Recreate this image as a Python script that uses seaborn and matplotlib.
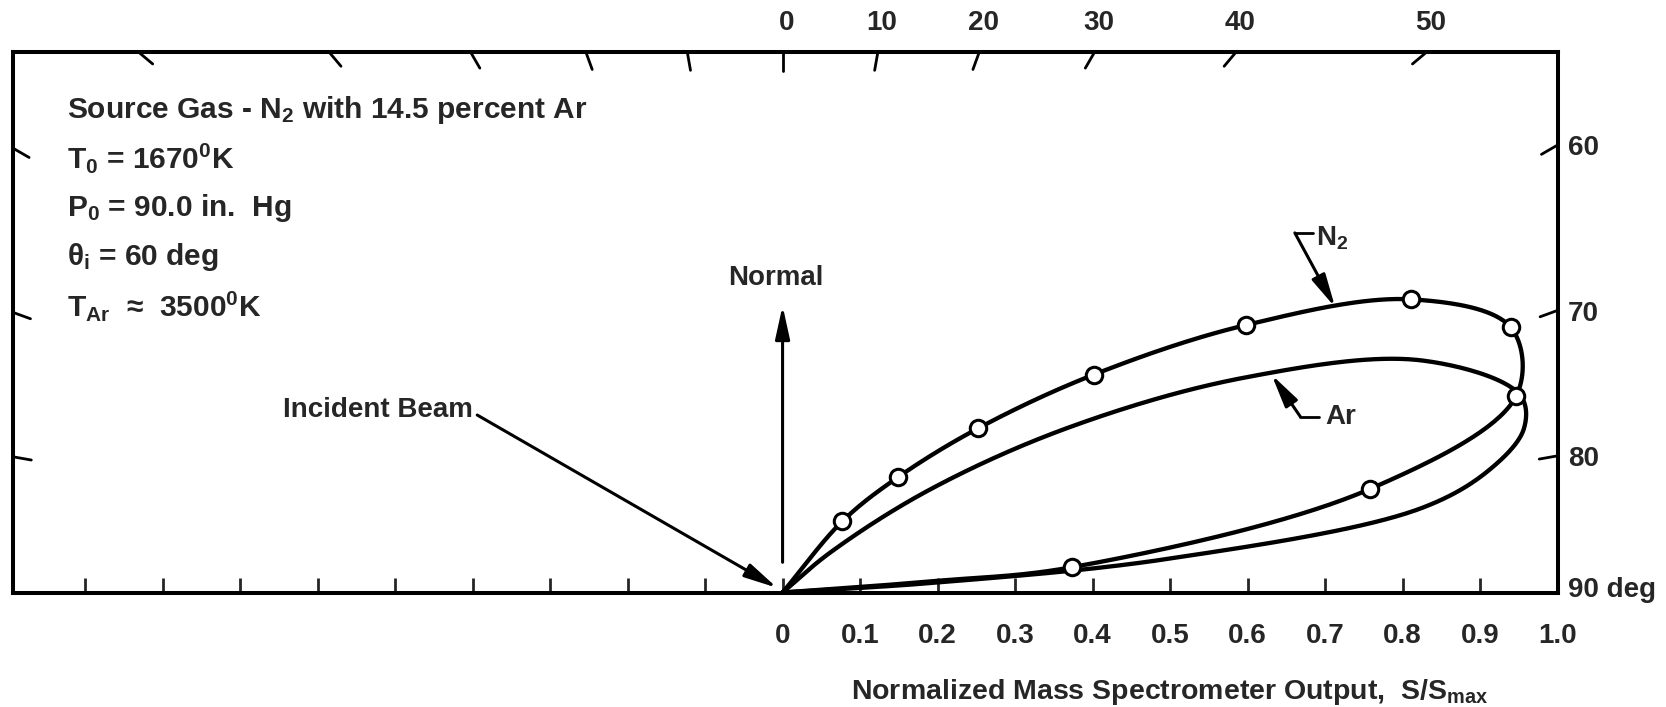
import numpy as np
import pandas as pd
import matplotlib
matplotlib.use("Agg")
import matplotlib.pyplot as plt
import seaborn as sns

# ---------------- data ----------------
# N2 scattering distribution (open-circle data points), polar angle from normal (deg)
n2_angle_deg = [40, 45, 50, 55, 60, 65, 70, 75, 80, 85]
n2_signal = [0.12, 0.21, 0.33, 0.49, 0.69, 0.895, 1.0, 0.98, 0.77, 0.375]
# faired N2 curve continuation toward origin (no symbol)
n2_tail_angle_deg = [85.7]
n2_tail_signal = [0.20]
# Ar faired curve (no symbols)
ar_angle_deg = [50, 55, 60, 65, 70, 75, 77.5, 80, 82.5, 85, 86.3]
ar_signal = [0.08, 0.23, 0.425, 0.655, 0.876, 0.985, 0.98, 0.93, 0.83, 0.50, 0.20]

# angle scale
top_angles = [-50, -40, -30, -20, -10, 0, 10, 20, 30, 40, 50]
top_angle_labels = ["", "", "", "", "", "0", "10", "20", "30", "40", "50"]
side_angles = [-80, -70, -60, 60, 70, 80]
side_angle_labels = ["", "", "", "60", "70", "80"]
corner_label = "90 deg"

# radial (S/Smax) scale
x_ticks = [-0.9, -0.8, -0.7, -0.6, -0.5, -0.4, -0.3, -0.2, -0.1,
           0.0, 0.1, 0.2, 0.3, 0.4, 0.5, 0.6, 0.7, 0.8, 0.9, 1.0]
x_tick_labels = [""] * 9 + ["0", "0.1", "0.2", "0.3", "0.4", "0.5", "0.6", "0.7", "0.8", "0.9", "1.0"]
x_label = r"Normalized Mass Spectrometer Output,  S/S$_{\mathrm{max}}$"

info_lines = [
    r"Source Gas - N$_2$ with 14.5 percent Ar",
    r"T$_0$ = 1670$^0$K",
    r"P$_0$ = 90.0 in.  Hg",
    r"θ$_\mathrm{i}$ = 60 deg",
    r"T$_{\mathrm{Ar}}$  ≈  3500$^0$K",
]

# ---------------- style ----------------
sns.set_style("white")
FONT = ["Liberation Sans", "DejaVu Sans"]
plt.rcParams["font.family"] = FONT
plt.rcParams["font.weight"] = "bold"
plt.rcParams["mathtext.fontset"] = "custom"
plt.rcParams["mathtext.rm"] = "Liberation Sans:bold"
plt.rcParams["mathtext.it"] = "Liberation Sans:bold"
plt.rcParams["mathtext.bf"] = "Liberation Sans:bold"
plt.rcParams["mathtext.default"] = "rm"
FS = 20
FS_INFO = 21.5


def polar_xy(ang_deg, r):
    a = np.radians(np.asarray(ang_deg, dtype=float))
    r = np.asarray(r, dtype=float)
    return r * np.sin(a), r * np.cos(a)


def catmull_rom(pts, n=40, alpha=0.5):
    pts = np.asarray(pts, dtype=float)
    P = np.vstack([2 * pts[0] - pts[1], pts, 2 * pts[-1] - pts[-2]])
    out = []
    for i in range(len(P) - 3):
        p0, p1, p2, p3 = P[i:i + 4]
        t0 = 0.0
        t1 = t0 + max(np.linalg.norm(p1 - p0), 1e-9) ** alpha
        t2 = t1 + max(np.linalg.norm(p2 - p1), 1e-9) ** alpha
        t3 = t2 + max(np.linalg.norm(p3 - p2), 1e-9) ** alpha
        t = np.linspace(t1, t2, n)[:, None]
        A1 = (t1 - t) / (t1 - t0) * p0 + (t - t0) / (t1 - t0) * p1
        A2 = (t2 - t) / (t2 - t1) * p1 + (t - t1) / (t2 - t1) * p2
        A3 = (t3 - t) / (t3 - t2) * p2 + (t - t2) / (t3 - t2) * p3
        B1 = (t2 - t) / (t2 - t0) * A1 + (t - t0) / (t2 - t0) * A2
        B2 = (t3 - t) / (t3 - t1) * A2 + (t - t1) / (t3 - t1) * A3
        C = (t2 - t) / (t2 - t1) * B1 + (t - t1) / (t2 - t1) * B2
        out.append(C if i == 0 else C[1:])
    return np.vstack(out)


# ---------------- build curves ----------------
nx, ny = polar_xy(n2_angle_deg, n2_signal)
tx, ty = polar_xy(n2_tail_angle_deg, n2_tail_signal)
n2_pts = np.vstack([[0, 0], np.column_stack([nx, ny]), np.column_stack([tx, ty]), [0, 0]])
n2_curve = catmull_rom(n2_pts)

ax_, ay_ = polar_xy(ar_angle_deg, ar_signal)
ar_pts = np.vstack([[0, 0], np.column_stack([ax_, ay_]), [0, 0]])
ar_curve = catmull_rom(ar_pts)

curves = pd.concat([
    pd.DataFrame({"x": n2_curve[:, 0], "y": n2_curve[:, 1], "gas": "N2", "k": np.arange(len(n2_curve))}),
    pd.DataFrame({"x": ar_curve[:, 0], "y": ar_curve[:, 1], "gas": "Ar", "k": np.arange(len(ar_curve))}),
])
markers = pd.DataFrame({"x": nx, "y": ny})

# ---------------- figure ----------------
W, H = 1666, 707
fig = plt.figure(figsize=(W / 100, H / 100), dpi=100)
X0, X1 = -0.993, 1.0
Y1 = 0.6974
scale = 775.0  # px per unit
left_px, bottom_px = 13, 592.5
ax = fig.add_axes([left_px / W, (H - bottom_px) / H, (X1 - X0) * scale / W, Y1 * scale / H])

sns.lineplot(data=curves, x="x", y="y", units="gas", estimator=None, sort=False,
             color="black", lw=3.1, ax=ax, legend=False)
sns.scatterplot(data=markers, x="x", y="y", s=140, marker="o", facecolor="white",
                edgecolor="black", linewidth=2.2, zorder=5, ax=ax, legend=False)

ax.set_xlim(X0, X1)
ax.set_ylim(0, Y1)
for sp in ax.spines.values():
    sp.set_visible(True)
    sp.set_linewidth(2.9)
    sp.set_color("black")

ax.set_xticks(x_ticks)
ax.set_xticklabels(x_tick_labels, fontsize=FS, fontweight="bold")
ax.set_yticks([])
ax.tick_params(axis="x", direction="in", length=11, width=2.0, pad=22, bottom=True, top=False)
ax.set_xlabel("")
ax.set_ylabel("")
ax.text(0.5, -0.137, x_label, ha="center", va="baseline", fontsize=FS + 0.5, fontweight="bold",
        clip_on=False)

# angle ticks on frame (radial, pointing inward)
TL = 0.024
for a, lab in zip(top_angles, top_angle_labels):
    ex, ey = Y1 * np.tan(np.radians(a)), Y1
    ux, uy = np.sin(np.radians(a)), np.cos(np.radians(a))
    ax.plot([ex, ex - TL * ux], [ey, ey - TL * uy], color="black", lw=2.0, clip_on=False)
    if lab:
        ax.text(ex + 0.005, Y1 + 0.038, lab, ha="center", va="center", fontsize=FS, clip_on=False)

for a, lab in zip(side_angles, side_angle_labels):
    edge = X1 if a > 0 else X0
    ey = abs(edge) / np.tan(np.radians(abs(a)))
    ux, uy = np.sin(np.radians(a)), np.cos(np.radians(a))
    ax.plot([edge, edge - TL * ux], [ey, ey - TL * uy], color="black", lw=2.0, clip_on=False)
    if lab:
        ax.text(X1 + 0.013, ey - 0.004, lab, ha="left", va="center", fontsize=FS, clip_on=False)
ax.text(X1 + 0.013, 0.003, corner_label, ha="left", va="center", fontsize=FS, clip_on=False)

# info block
y0, dy = 0.628, 0.0635
for i, line in enumerate(info_lines):
    ax.text(-0.923, y0 - i * dy, line, ha="left", va="center_baseline", fontsize=FS_INFO)

# Normal arrow
AP = dict(arrowstyle="-|>,head_length=1.0,head_width=0.22", lw=2.2,
          color="black", shrinkA=0, shrinkB=0, mutation_scale=20)
ax.annotate("", xy=(0, 0.37), xytext=(0, 0.039), arrowprops=AP)
ax.text(-0.009, 0.406, "Normal", ha="center", va="center", fontsize=FS)

# Incident beam arrow
ax.annotate("", xy=(-0.007, 0.006), xytext=(-0.394, 0.229), arrowprops=AP)
ax.text(-0.400, 0.236, "Incident Beam", ha="right", va="center", fontsize=FS)

# N2 label
ax.plot([0.661, 0.684], [0.464, 0.464], color="black", lw=2.0)
ax.annotate("", xy=(0.713, 0.368), xytext=(0.661, 0.464), arrowprops=AP)
ax.text(0.688, 0.457, r"N$_2$", ha="left", va="center", fontsize=FS)

# Ar label
ax.plot([0.668, 0.692], [0.227, 0.227], color="black", lw=2.0)
ax.annotate("", xy=(0.631, 0.281), xytext=(0.668, 0.227), arrowprops=AP)
ax.text(0.700, 0.226, "Ar", ha="left", va="center", fontsize=FS)

fig.savefig("out.png", dpi=100, facecolor="white")
